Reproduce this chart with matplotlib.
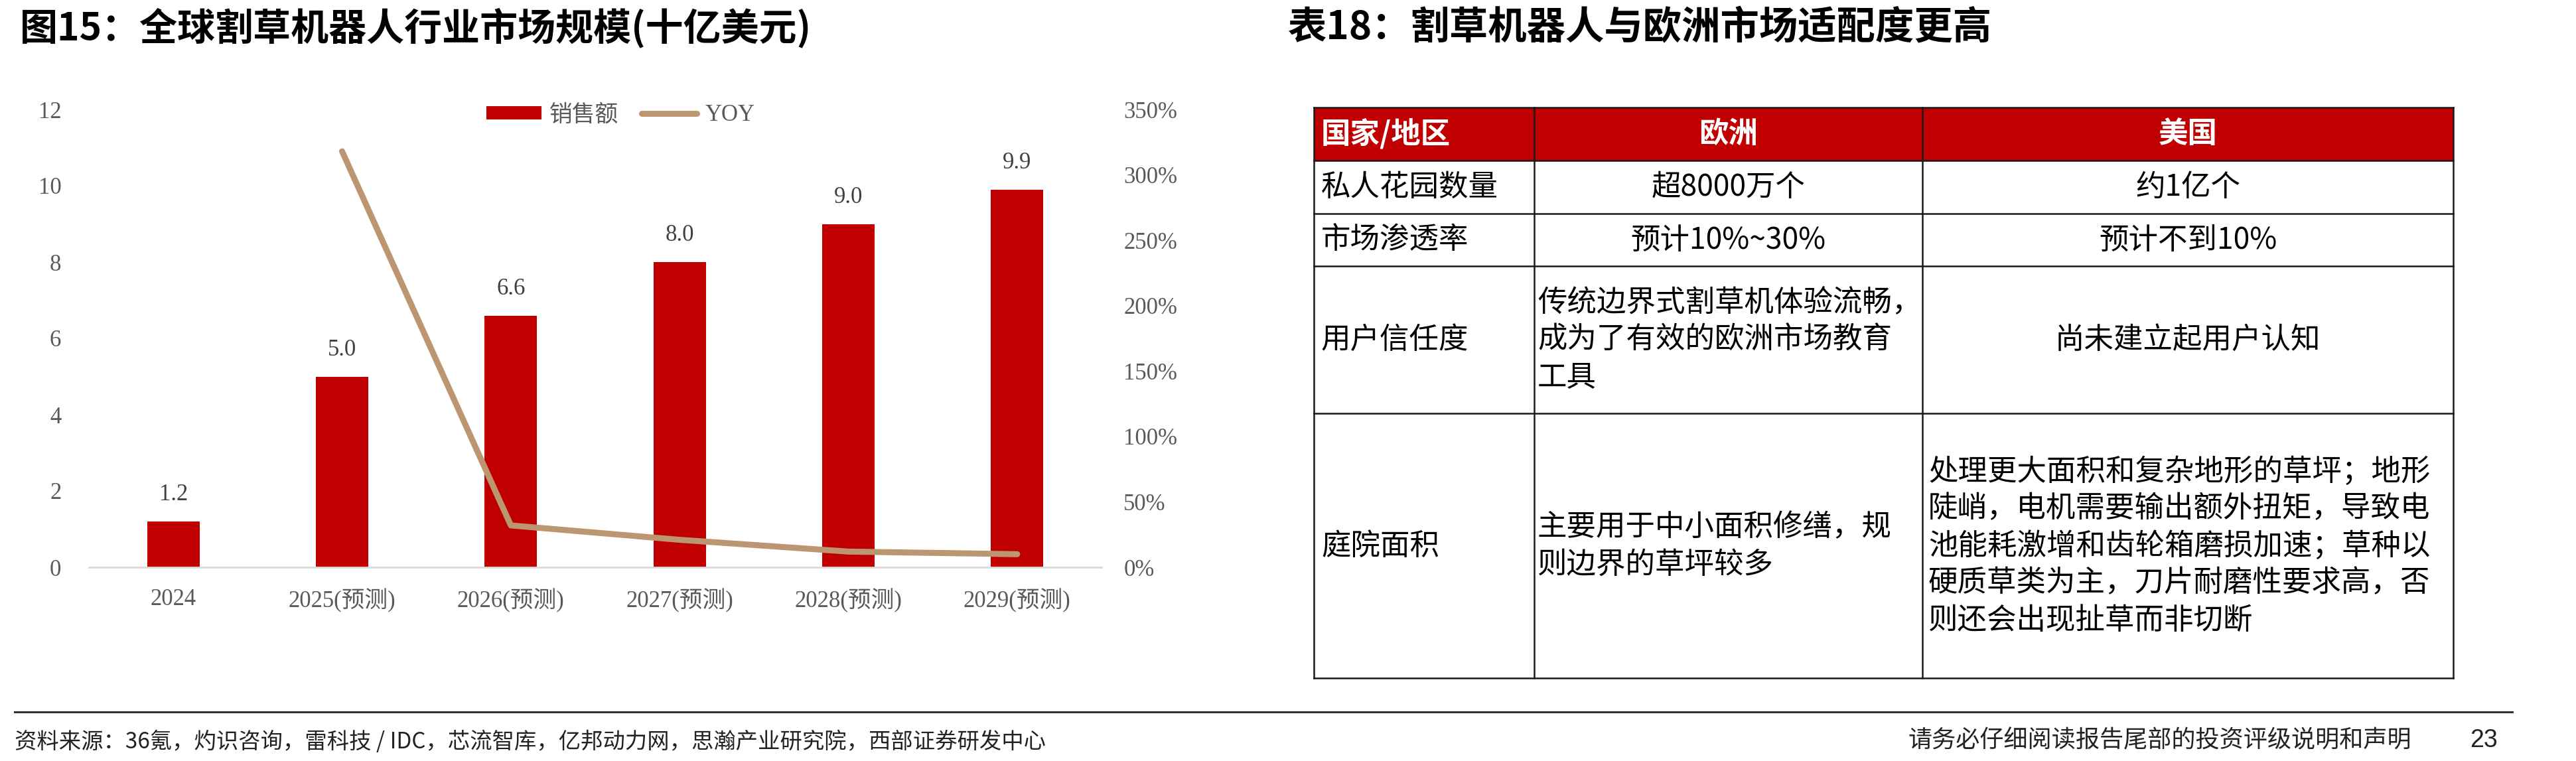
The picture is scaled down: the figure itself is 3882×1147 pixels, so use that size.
import numpy as np
import matplotlib.pyplot as plt
from matplotlib.patches import Rectangle
from matplotlib.ticker import FuncFormatter

plt.rcParams['font.family'] = ['Liberation Serif', 'Noto Sans CJK SC']
CJK = ['Noto Sans CJK SC', 'DejaVu Sans']

# ---- chart data ----
years = ['2024', '2025(预测)', '2026(预测)', '2027(预测)', '2028(预测)', '2029(预测)']
sales = [1.2, 5.0, 6.6, 8.0, 9.0, 9.9]
yoy = [3.18, 0.32, 0.21, 0.12, 0.10]   # 2025..2029

title_left = '图15：全球割草机器人行业市场规模(十亿美元)'
title_right = '表18：割草机器人与欧洲市场适配度更高'

# ---- table data ----
header = ['国家/地区', '欧洲', '美国']
row_names = ['私人花园数量', '市场渗透率', '用户信任度', '庭院面积']
europe = [['超8000万个'],
          ['预计10%~30%'],
          ['传统边界式割草机体验流畅，', '成为了有效的欧洲市场教育', '工具'],
          ['主要用于中小面积修缮，规', '则边界的草坪较多']]
usa = [['约1亿个'],
       ['预计不到10%'],
       ['尚未建立起用户认知'],
       ['处理更大面积和复杂地形的草坪；地形', '陡峭，电机需要输出额外扭矩，导致电',
        '池能耗激增和齿轮箱磨损加速；草种以', '硬质草类为主，刀片耐磨性要求高，否',
        '则还会出现扯草而非切断']]

source = '资料来源：36氪，灼识咨询，雷科技 / IDC，芯流智库，亿邦动力网，思瀚产业研究院，西部证券研发中心'
disclaimer = '请务必仔细阅读报告尾部的投资评级说明和声明'
page = '23'

red = '#C00000'
tan = '#BC9671'
grey = '#595959'

W, H = 3882, 1147
fig = plt.figure(figsize=(W / 100, H / 100), dpi=100)

# full-figure pixel canvas for titles, table and footer
cv = fig.add_axes([0, 0, 1, 1])
cv.set_xlim(0, W)
cv.set_ylim(H, 0)
cv.axis('off')

# ---- bar + line chart ----
ax = fig.add_axes([134 / W, 1 - 855 / H, (1660 - 134) / W, (855 - 165) / H])
x = np.arange(len(years))
bars = ax.bar(x, sales, width=0.31, color=red, label='销售额', zorder=2)
for xi, v in zip(x, sales):
    ax.annotate(f'{v:.1f}', (xi, v), xytext=(0, 23), textcoords='offset points',
                ha='center', va='baseline', fontsize=25, color='#404040')
ax.set_xlim(-0.5, len(years) - 0.5)
ax.set_ylim(0, 12)
ax.set_yticks(range(0, 13, 2))
ax.set_xticks(x, years)
ax.tick_params(axis='y', length=0, pad=30, labelsize=25, labelcolor=grey)
ax.tick_params(axis='x', length=0, pad=23, labelsize=25, labelcolor=grey)
for s in ['top', 'right', 'left']:
    ax.spines[s].set_visible(False)
ax.spines['bottom'].set_color('#D9D9D9')
ax.spines['bottom'].set_linewidth(2)

ax2 = ax.twinx()
line, = ax2.plot(x[1:], yoy, color=tan, lw=6.5, solid_capstyle='round',
                 solid_joinstyle='round', label='YOY')
ax2.set_ylim(0, 3.5)
ax2.set_yticks(np.arange(0, 3.51, 0.5))
ax2.yaxis.set_major_formatter(FuncFormatter(lambda v, p: f'{v * 100:.0f}%'))
ax2.tick_params(axis='y', length=0, pad=24, labelsize=25, labelcolor=grey)
for s in ax2.spines.values():
    s.set_visible(False)

ax2.legend([bars, line], ['销售额', 'YOY'], loc='center', bbox_to_anchor=(0.525, 0.987),
           ncol=2, frameon=False, fontsize=25, handlelength=2.4, handleheight=0.52,
           handletextpad=0.35, columnspacing=1.0, labelcolor=grey)

# ---- titles ----
cv.text(30, 42, title_left, fontsize=41, fontweight='bold', family=CJK, va='center')
cv.text(1941, 42, title_right, fontsize=42, fontweight='bold', family=CJK, va='center')

# ---- table ----
col_edges = [1980, 2312, 2897, 3697]
row_edges = [162, 242, 322, 401, 623, 1022]
pads = [11, 5, 9]
pitch = 56

cv.add_patch(Rectangle((col_edges[0], row_edges[0]), col_edges[-1] - col_edges[0],
                       row_edges[1] - row_edges[0], facecolor=red, edgecolor='none'))


def cell(lines, c, r, center, **kw):
    cy = (row_edges[r] + row_edges[r + 1]) / 2
    n = len(lines)
    for i, ln in enumerate(lines):
        y = cy + (i - (n - 1) / 2) * pitch
        if center:
            cv.text((col_edges[c] + col_edges[c + 1]) / 2, y, ln, ha='center', va='center',
                    fontsize=32, family=CJK, **kw)
        else:
            cv.text(col_edges[c] + pads[c], y, ln, ha='left', va='center',
                    fontsize=32, family=CJK, **kw)


for c, h in enumerate(header):
    cell([h], c, 0, c > 0, color='white', fontweight='bold')
for r, name in enumerate(row_names):
    cell([name], 0, r + 1, False)
    cell(europe[r], 1, r + 1, len(europe[r]) == 1)
    cell(usa[r], 2, r + 1, len(usa[r]) == 1)

for ye in row_edges:
    cv.plot([col_edges[0], col_edges[-1]], [ye, ye], color='#1a1a1a', lw=1.8,
            solid_capstyle='projecting')
for xe in col_edges:
    cv.plot([xe, xe], [row_edges[0], row_edges[-1]], color='#1a1a1a', lw=1.8,
            solid_capstyle='projecting')

# ---- footer ----
cv.plot([22, 3786], [1073, 1073], color='#333333', lw=2.2)
cv.text(22, 1118, source, fontsize=24, family=CJK, va='center', color='#222222')
cv.text(3634, 1116, disclaimer, fontsize=26, family=CJK, ha='right', va='center',
        color='#222222')
cv.text(3764, 1116, page, fontsize=27, family='Liberation Sans', ha='right', va='center',
        color='#222222')

fig.savefig('out.png', dpi=100)
